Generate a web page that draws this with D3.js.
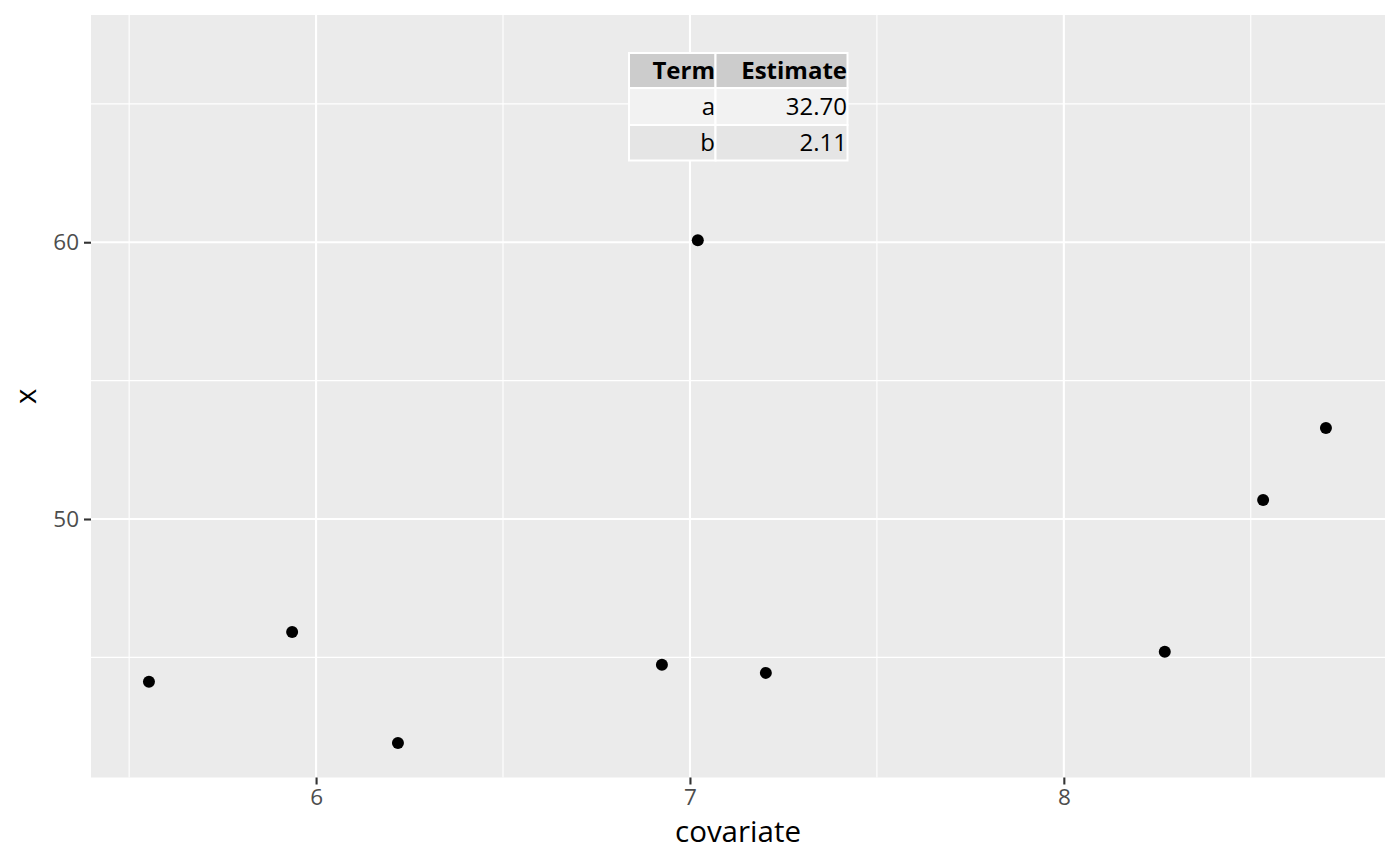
<!DOCTYPE html>
<html>
<head>
<meta charset="utf-8">
<script src="https://cdn.jsdelivr.net/npm/d3@7"></script>
<style>
  body { margin: 0; background: #ffffff; }
  text { font-family: "Open Sans", "Noto Sans", sans-serif; }
</style>
</head>
<body>
<div id="chart"></div>
<script>
// Data
var covariate = [5.553, 5.936, 6.219, 6.925, 7.021, 7.203, 8.270, 8.533, 8.701];
var xvals     = [44.12, 45.92, 41.91, 44.73, 60.07, 44.44, 45.20, 50.69, 53.29];
var x_ticks   = [6, 7, 8];
var x_minor   = [5.5, 6.5, 7.5, 8.5];
var y_ticks   = [50, 60];
var y_minor   = [45, 55, 65];
var table_head  = ['Term', 'Estimate'];
var table_terms = ['a', 'b'];
var table_est   = ['32.70', '2.11'];

var width  = 1400;
var height = 866;
var panel = { left: 91, right: 1385, top: 15, bottom: 777.5 };

var svg = d3.select('#chart')
    .append('svg')
    .attr('width', width)
    .attr('height', height);

var x = d3.scaleLinear().domain([5.398, 8.859]).range([panel.left, panel.right]);
var y = d3.scaleLinear().domain([40.66, 68.21]).range([panel.bottom, panel.top]);

// panel background
svg.append('rect')
    .attr('x', panel.left)
    .attr('y', panel.top)
    .attr('width', panel.right - panel.left)
    .attr('height', panel.bottom - panel.top)
    .attr('fill', '#ebebeb');

// minor grid
svg.selectAll('.vminor').data(x_minor).enter().append('line')
    .attr('x1', function(d){ return x(d); }).attr('x2', function(d){ return x(d); })
    .attr('y1', panel.top).attr('y2', panel.bottom)
    .attr('stroke', '#ffffff').attr('stroke-width', 1.1);
svg.selectAll('.hminor').data(y_minor).enter().append('line')
    .attr('y1', function(d){ return y(d); }).attr('y2', function(d){ return y(d); })
    .attr('x1', panel.left).attr('x2', panel.right)
    .attr('stroke', '#ffffff').attr('stroke-width', 1.1);

// major grid
svg.selectAll('.vmajor').data(x_ticks).enter().append('line')
    .attr('x1', function(d){ return x(d); }).attr('x2', function(d){ return x(d); })
    .attr('y1', panel.top).attr('y2', panel.bottom)
    .attr('stroke', '#ffffff').attr('stroke-width', 2.1);
svg.selectAll('.hmajor').data(y_ticks).enter().append('line')
    .attr('y1', function(d){ return y(d); }).attr('y2', function(d){ return y(d); })
    .attr('x1', panel.left).attr('x2', panel.right)
    .attr('stroke', '#ffffff').attr('stroke-width', 2.1);

// axes
var xAxis = d3.axisBottom(x).tickValues(x_ticks).tickSize(7).tickPadding(5).tickFormat(d3.format('d'));
var yAxis = d3.axisLeft(y).tickValues(y_ticks).tickSize(7).tickPadding(5).tickFormat(d3.format('d'));

var gx = svg.append('g')
    .attr('transform', 'translate(0,' + panel.bottom + ')')
    .call(xAxis);
var gy = svg.append('g')
    .attr('transform', 'translate(' + panel.left + ',0)')
    .call(yAxis);

[gx, gy].forEach(function(g){
    g.select('.domain').remove();
    g.selectAll('.tick line').attr('stroke', '#333333').attr('stroke-width', 2.1);
    g.selectAll('.tick text')
        .attr('fill', '#4d4d4d')
        .style('font-size', '22.5px')
        .style('font-family', '"Open Sans", "Noto Sans", sans-serif');
});

// axis titles
svg.append('text')
    .attr('x', (panel.left + panel.right) / 2)
    .attr('y', 842)
    .attr('text-anchor', 'middle')
    .style('font-size', '29.5px')
    .attr('fill', '#000000')
    .text('covariate');

svg.append('text')
    .attr('transform', 'translate(36,' + ((panel.top + panel.bottom) / 2) + ') rotate(-90)')
    .attr('text-anchor', 'middle')
    .style('font-size', '29.5px')
    .attr('fill', '#000000')
    .text('x');

// points
svg.selectAll('circle')
    .data(covariate)
    .enter()
    .append('circle')
    .attr('cx', function(d){ return x(d); })
    .attr('cy', function(d, i){ return y(xvals[i]); })
    .attr('r', 6)
    .attr('fill', '#000000');

// table annotation
var tbl = { left: 629, mid: 715.5, right: 847.5, rows: [53, 88, 125, 160.5] };
var row_fill = ['#cccccc', '#f2f2f2', '#e5e5e5'];
var rows = [table_head].concat(table_terms.map(function(t, i){ return [t, table_est[i]]; }));

var tg = svg.append('g');
rows.forEach(function(r, i){
    var y0 = tbl.rows[i], y1 = tbl.rows[i + 1];
    tg.append('rect')
        .attr('x', tbl.left).attr('y', y0)
        .attr('width', tbl.mid - tbl.left).attr('height', y1 - y0)
        .attr('fill', row_fill[i]).attr('stroke', '#ffffff').attr('stroke-width', 2);
    tg.append('rect')
        .attr('x', tbl.mid).attr('y', y0)
        .attr('width', tbl.right - tbl.mid).attr('height', y1 - y0)
        .attr('fill', row_fill[i]).attr('stroke', '#ffffff').attr('stroke-width', 2);
    [tbl.mid - 0.5, tbl.right - 0.5].forEach(function(xr, j){
        tg.append('text')
            .attr('x', xr)
            .attr('y', (y0 + y1) / 2)
            .attr('dy', '0.35em')
            .attr('text-anchor', 'end')
            .style('font-size', '24px')
            .style('font-weight', i === 0 ? 'bold' : 'normal')
            .attr('fill', '#000000')
            .text(r[j]);
    });
});
</script>
</body>
</html>
